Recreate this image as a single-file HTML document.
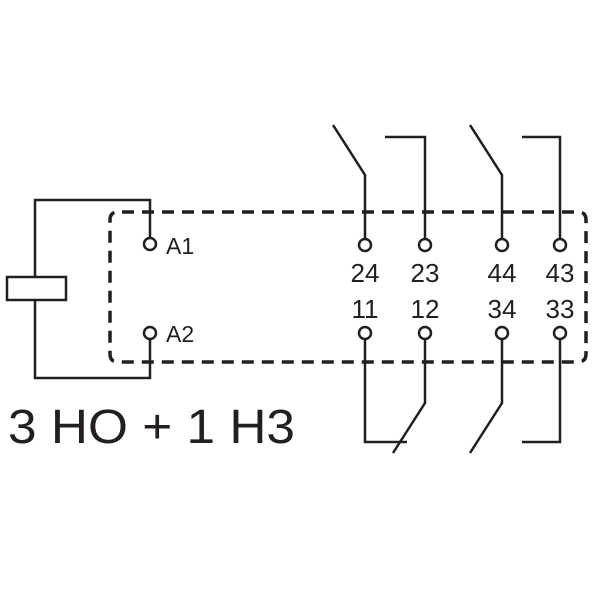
<!DOCTYPE html>
<html><head><style>body{margin:0;background:#fff}</style></head><body>
<svg width="600" height="600" viewBox="0 0 600 600" xmlns="http://www.w3.org/2000/svg">
<rect width="600" height="600" fill="#fff"/>
<g fill="none" stroke="#231f20" stroke-width="2.5">
<path d="M35 277 V200 H150 V238"/>
<path d="M35 300 V378 H150 V339"/>
<rect x="7" y="277" width="59" height="23"/>
<circle cx="150" cy="244" r="6" fill="#fff"/>
<circle cx="150" cy="333" r="6" fill="#fff"/>
<path d="M365 239 V175 L333 125"/>
<path d="M425 239 V137 H385"/>
<path d="M502 239 V175 L470 125"/>
<path d="M560 239 V137 H522"/>
<path d="M365 339 V442 H407"/>
<path d="M425 339 V403 L393 453"/>
<path d="M502 339 V403 L470 453"/>
<path d="M560 339 V442 H522"/>
<g stroke-width="3.5" stroke-dasharray="12 8">
<path d="M122 212 H578 Q586 212 586 220 V354 Q586 362 578 362 H118 Q110 362 110 354 V220 Q110 212 118 212"/>
</g>
<g fill="#fff"><circle cx="365" cy="245" r="6"/><circle cx="425" cy="245" r="6"/><circle cx="502" cy="245" r="6"/><circle cx="560" cy="245" r="6"/>
<circle cx="365" cy="333" r="6"/><circle cx="425" cy="333" r="6"/><circle cx="502" cy="333" r="6"/><circle cx="560" cy="333" r="6"/></g>
</g>
<g fill="#231f20" font-family="Liberation Sans, sans-serif" font-size="26" text-anchor="middle">
<text x="166" y="254" font-size="23" text-anchor="start">A1</text>
<text x="166" y="342" font-size="23" text-anchor="start">A2</text>
<text x="365" y="282">24</text><text x="425" y="282">23</text><text x="502" y="282">44</text><text x="560" y="282">43</text>
<text x="365" y="318">11</text><text x="425" y="318">12</text><text x="502" y="318">34</text><text x="560" y="318">33</text>
<text x="8" y="443" font-size="48" text-anchor="start" textLength="287" lengthAdjust="spacingAndGlyphs">3 HO + 1 H3</text>
</g>
</svg>
</body></html>
